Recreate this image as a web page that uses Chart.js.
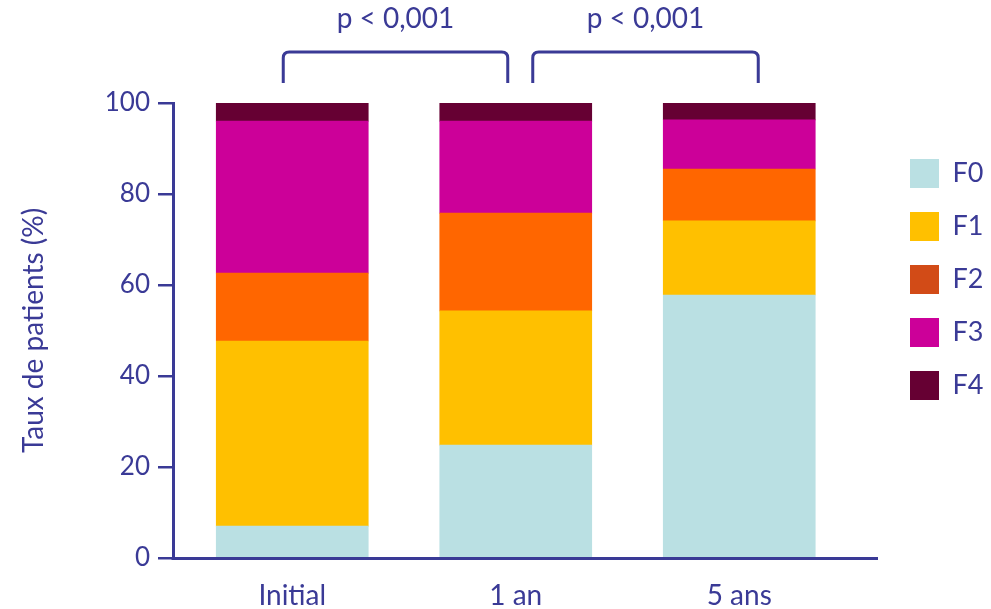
<!DOCTYPE html>
<html>
<head>
<meta charset="utf-8">
<script src="https://cdn.jsdelivr.net/npm/chart.js@4/dist/chart.umd.min.js"></script>
<style>
  html, body { margin: 0; padding: 0; background: #ffffff; }
  #wrap { width: 991px; height: 609px; }
</style>
</head>
<body>
<div id="wrap"><canvas id="c" width="991" height="609"></canvas></div>
<script>
// ---- data ----
const categories = ['Initial', '1 an', '5 ans'];
const seriesNames = ['F0', 'F1', 'F2', 'F3', 'F4'];
const F0 = [7.0, 24.8, 57.8];
const F1 = [40.7, 29.5, 16.3];
const F2 = [14.9, 21.5, 11.4];
const F3 = [33.4, 20.2, 10.8];
const F4 = [4.0, 4.0, 3.7];
const yTicks = [0, 20, 40, 60, 80, 100];
const pLabels = ['p < 0,001', 'p < 0,001'];

// ---- styles ----
const INK = '#3A3A96';
const barColors = ['#BAE0E3', '#FFC000', '#FF6600', '#CC0099', '#660033'];
const legendColors = ['#BAE0E3', '#FFC000', '#D24B17', '#CC0099', '#660033'];
Chart.defaults.font.family = 'Lato';

const seriesValues = [F0, F1, F2, F3, F4];
const datasets = seriesNames.map((name, i) => ({
  label: name,
  data: seriesValues[i],
  backgroundColor: barColors[i],
  borderWidth: 0,
  barThickness: 152
}));

const overlay = {
  id: 'overlay',
  afterLayout(chart) {
    // place the category band of the x scale
    const xs = chart.scales.x;
    xs.left = 180.5; xs.right = 851;
    xs.configure();
    // place the legend
    const lg = chart.legend;
    const pad = lg.options.labels.padding;
    const dx = 910 - (lg.left + pad);
    lg.left += dx; lg.right += dx;
    const dy = 159 - (lg.top + pad);
    lg.top += dy; lg.bottom += dy;
  },
  afterDraw(chart) {
    const ctx = chart.ctx;
    const xs = chart.scales.x;
    const area = chart.chartArea;
    ctx.save();
    ctx.strokeStyle = INK;
    ctx.lineWidth = 3;
    // x axis line
    ctx.beginPath();
    ctx.moveTo(area.left - 1.5, area.bottom + 0.5);
    ctx.lineTo(878, area.bottom + 0.5);
    ctx.stroke();
    // brackets
    const c = categories.map((_, i) => xs.getPixelForValue(i));
    const brackets = [[c[0] - 9, c[1] - 8], [c[1] + 17, c[2] + 19]];
    const yTop = 52, yBot = 83, r = 6;
    brackets.forEach(([x1, x2], i) => {
      ctx.beginPath();
      ctx.moveTo(x1, yBot);
      ctx.lineTo(x1, yTop + r);
      ctx.quadraticCurveTo(x1, yTop, x1 + r, yTop);
      ctx.lineTo(x2 - r, yTop);
      ctx.quadraticCurveTo(x2, yTop, x2, yTop + r);
      ctx.lineTo(x2, yBot);
      ctx.stroke();
      ctx.fillStyle = INK;
      ctx.font = '28px Lato';
      ctx.textAlign = 'center';
      ctx.textBaseline = 'alphabetic';
      ctx.fillText(pLabels[i], (x1 + x2) / 2, 28);
    });
    ctx.restore();
  }
};

new Chart(document.getElementById('c'), {
  type: 'bar',
  data: { labels: categories, datasets },
  options: {
    responsive: false,
    animation: false,
    devicePixelRatio: 1,
    layout: { padding: { top: 103, right: 30, bottom: 0, left: 0 } },
    plugins: {
      tooltip: { enabled: false },
      legend: {
        position: 'right',
        align: 'start',
        labels: {
          boxWidth: 29,
          boxHeight: 29,
          padding: 24,
          color: INK,
          font: { size: 27 },
          generateLabels(chart) {
            const items = Chart.defaults.plugins.legend.labels.generateLabels(chart);
            items.forEach((it, i) => {
              it.fillStyle = legendColors[i];
              it.strokeStyle = legendColors[i];
              it.lineWidth = 0;
            });
            return items;
          }
        }
      }
    },
    scales: {
      x: {
        stacked: true,
        grid: { display: false, drawTicks: false },
        border: { display: false },
        ticks: { color: INK, font: { size: 28 }, padding: 21 },
        afterFit(scale) { scale.height = 51; }
      },
      y: {
        stacked: true,
        min: 0,
        max: 100,
        afterBuildTicks(scale) { scale.ticks = yTicks.map(v => ({ value: v })); },
        ticks: { color: INK, font: { size: 26 }, padding: 8 },
        grid: { drawOnChartArea: false, drawTicks: true, tickLength: 15, color: INK, lineWidth: 2.5 },
        border: { display: true, color: INK, width: 3 },
        title: { display: true, text: 'Taux de patients (%)', color: INK, font: { size: 28 }, padding: { top: 17, bottom: 0 } },
        afterFit(scale) { scale.width = 173; }
      }
    }
  },
  plugins: [overlay]
});
</script>
</body>
</html>
